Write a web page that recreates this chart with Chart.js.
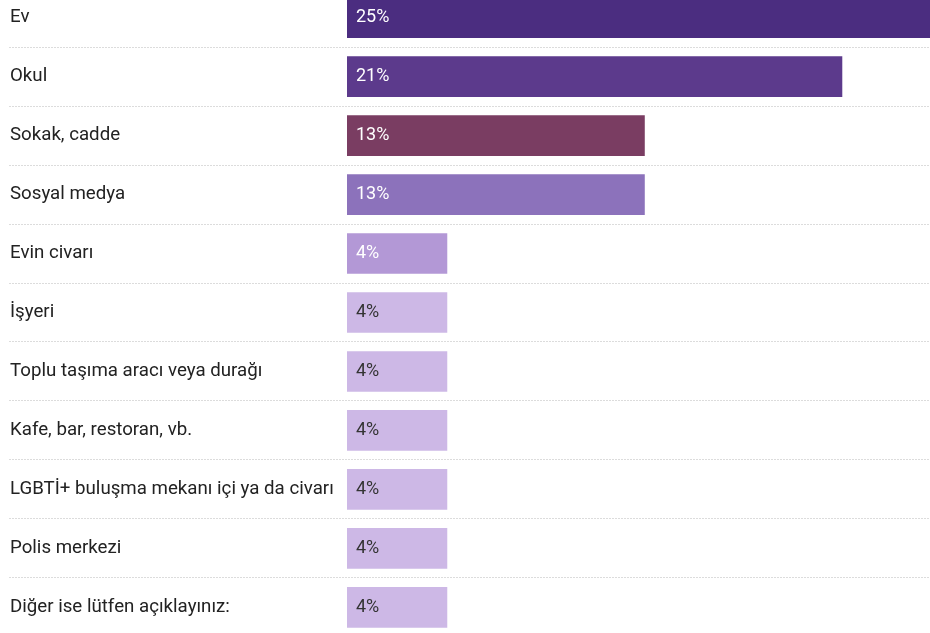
<!DOCTYPE html>
<html>
<head>
<meta charset="utf-8">
<script src="https://cdn.jsdelivr.net/npm/chart.js@4"></script>
<style>
  html, body { margin: 0; padding: 0; background: #fff; overflow: hidden; }
  #wrap { position: absolute; left: 0; top: -23px; width: 930px; height: 671px; }
</style>
</head>
<body>
<div id="wrap"><canvas id="chart"></canvas></div>
<script>
var categories = [
  "Ev",
  "Okul",
  "Sokak, cadde",
  "Sosyal medya",
  "Evin civarı",
  "İşyeri",
  "Toplu taşıma aracı veya durağı",
  "Kafe, bar, restoran, vb.",
  "LGBTİ+ buluşma mekanı içi ya da civarı",
  "Polis merkezi",
  "Diğer ise lütfen açıklayınız:"
];
// bar lengths (%), and the rounded labels shown on the bars
var values = [25, 20.8, 12.5, 12.5, 4.2, 4.2, 4.2, 4.2, 4.2, 4.2, 4.2];
var valueLabels = ["25%", "21%", "13%", "13%", "4%", "4%", "4%", "4%", "4%", "4%", "4%"];
var barColors = ["#4b2d80", "#5c3a8c", "#7a3d62", "#8c72bb", "#b398d6",
  "#cdb8e6", "#cdb8e6", "#cdb8e6", "#cdb8e6", "#cdb8e6", "#cdb8e6"];
var textColors = ["#ffffff", "#ffffff", "#ffffff", "#ffffff", "#ffffff",
  "#333333", "#333333", "#333333", "#333333", "#333333", "#333333"];

var FONT = "Roboto, 'Noto Sans', sans-serif";

// dotted separators between rows, across the whole width
var separators = {
  id: "separators",
  beforeDatasetsDraw: function (chart) {
    var ctx = chart.ctx;
    var y = chart.scales.y;
    ctx.save();
    ctx.strokeStyle = "#dcdcdc";
    ctx.lineWidth = 1;
    ctx.setLineDash([2, 1]);
    for (var i = 0; i < categories.length - 1; i++) {
      var py = Math.floor((y.getPixelForValue(i) + y.getPixelForValue(i + 1)) / 2) + 0.5;
      ctx.beginPath();
      ctx.moveTo(9, py);
      ctx.lineTo(chart.width, py);
      ctx.stroke();
    }
    ctx.restore();
  }
};

// value labels inside the bars
var barLabels = {
  id: "barLabels",
  afterDatasetsDraw: function (chart) {
    var ctx = chart.ctx;
    var meta = chart.getDatasetMeta(0);
    ctx.save();
    ctx.font = "18px " + FONT;
    ctx.textBaseline = "middle";
    ctx.textAlign = "left";
    meta.data.forEach(function (bar, i) {
      ctx.fillStyle = textColors[i];
      ctx.fillText(valueLabels[i], bar.base + 9, bar.y);
    });
    ctx.restore();
  }
};

new Chart(document.getElementById("chart"), {
  type: "bar",
  data: {
    labels: categories,
    datasets: [{
      data: values,
      backgroundColor: barColors,
      borderWidth: 0,
      barThickness: 40
    }]
  },
  options: {
    indexAxis: "y",
    responsive: true,
    maintainAspectRatio: false,
    animation: false,
    layout: { padding: { left: 10, right: 0, top: 0, bottom: 0 } },
    plugins: {
      legend: { display: false },
      tooltip: { enabled: false }
    },
    scales: {
      x: {
        display: false,
        min: 0,
        max: 24.5
      },
      y: {
        grid: { display: false },
        border: { display: false },
        afterFit: function (scale) { scale.width = 337; },
        ticks: {
          crossAlign: "far",
          padding: 0,
          color: "#222222",
          font: { family: FONT, size: 18.7 }
        }
      }
    }
  },
  plugins: [separators, barLabels]
});
</script>
</body>
</html>
